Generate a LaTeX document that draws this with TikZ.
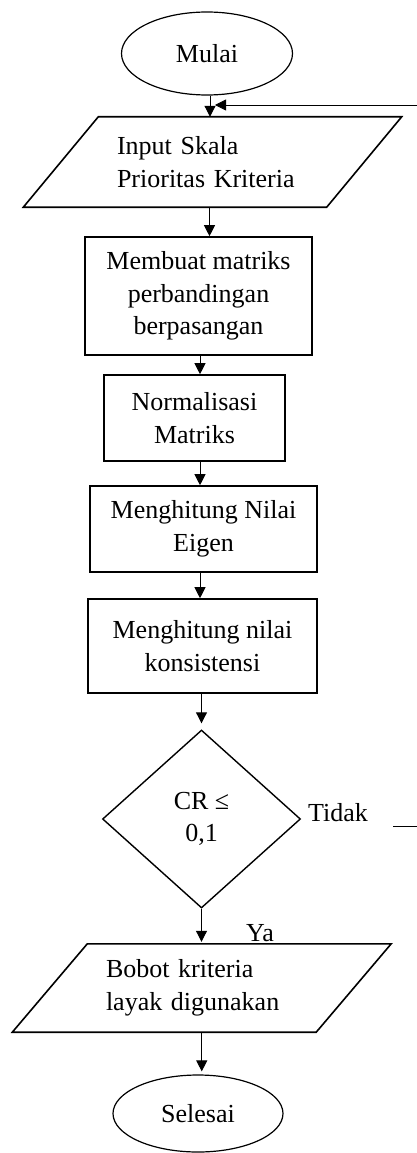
\documentclass[tikz,border=0pt]{standalone}
\usepackage{fontspec}
\setmainfont{Liberation Serif}
\usetikzlibrary{shapes.geometric,arrows.meta}
\begin{document}
\begin{tikzpicture}[x=1pt,y=-1pt,
  every node/.style={font=\fontsize{26}{32.5}\selectfont, inner sep=0pt},
  term/.style={ellipse, draw, line width=1.2pt},
  procbox/.style={rectangle, draw, line width=1.6pt, align=center},
  iobox/.style={rectangle, align=left, inner xsep=56pt},
  iofrm/.style={draw, line width=1.6pt, line join=miter},
  decbox/.style={diamond, draw, line width=1.4pt, align=center},
  arr/.style={draw, line width=1pt, -{Triangle[length=11pt,width=11pt]}},
  plain/.style={draw, line width=0.9pt}]

\useasboundingbox (0,0) rectangle (417,1153);

% terminals, process boxes, decision and data boxes
\node[term, minimum width=171pt, minimum height=83pt] (start) at (207,53.5) {Mulai};

\node[iobox, text width=191pt, minimum height=90pt] (inp) at (212.5,162) {Input Skala\\Prioritas Kriteria};
\draw[iofrm] ([xshift=37.5]inp.north west) -- ([xshift=37.5]inp.north east)
  -- ([xshift=-37.5]inp.south east) -- ([xshift=-37.5]inp.south west) -- cycle;

\node[procbox, minimum width=227pt, minimum height=118pt] (mat) at (198.5,296) {Membuat matriks\\perbandingan\\berpasangan};
\node[procbox, minimum width=181pt, minimum height=86pt] (norm) at (194.5,418) {Normalisasi\\Matriks};
\node[procbox, minimum width=227pt, minimum height=86pt] (eig) at (203.5,529) {Menghitung Nilai\\Eigen};
\node[procbox, minimum width=229pt, minimum height=94pt] (cons) at (202.5,646) {Menghitung nilai\\konsistensi};

\node[decbox, minimum width=198pt, minimum height=178pt] (dec) at (201.5,819) {CR ≤\\0,1};

\node[iobox, text width=191.5pt, minimum height=88pt] (out) at (201.75,988) {Bobot kriteria\\layak digunakan};
\draw[iofrm] ([xshift=37.5]out.north west) -- ([xshift=37.5]out.north east)
  -- ([xshift=-37.5]out.south east) -- ([xshift=-37.5]out.south west) -- cycle;

\node[term, minimum width=170pt, minimum height=77pt] (stop) at (198,1113.5) {Selesai};

% branch labels
\node (ya) at (260,933) {Ya};
\node (tidak) at (338,813) {Tidak};

% loop-back line entering from the right
\coordinate (fbin) at (417,105);
\coordinate (fbend) at (215,105);
\draw[arr, line width=0.8pt] (fbin) -- (fbend);

% stub of the "Tidak" branch
\coordinate (tidakA) at (393,826);
\coordinate (tidakB) at (417,826);
\draw[plain] (tidakA) -- (tidakB);

% main flow
\draw[arr] ([xshift=3]start.south) -- ([xshift=3]start.south |- inp.north);
\draw[arr] ([xshift=-3]inp.south) -- ([xshift=-3]inp.south |- mat.north);
\draw[arr] ([xshift=1.5]mat.south) -- ([xshift=1.5]mat.south |- norm.north);
\draw[arr] ([xshift=5.5]norm.south) -- ([xshift=5.5]norm.south |- eig.north);
\draw[arr] ([xshift=-3.5]eig.south) -- ([xshift=-3.5]eig.south |- cons.north);
\draw[arr, shorten >=6pt] (cons.south -| dec.north) -- (dec.north);
\draw[arr, shorten >=2pt] (dec.south) -- (dec.south |- out.north);
\draw[arr, shorten >=3pt] (out.south) -- (out.south |- stop.north);
\end{tikzpicture}
\end{document}
